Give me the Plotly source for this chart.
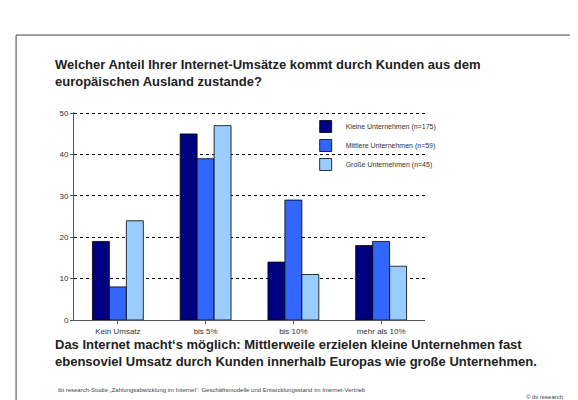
import plotly.graph_objects as go

categories = ["Kein Umsatz", "bis 5%", "bis 10%", "mehr als 10%"]
kleine = [19, 45, 14, 18]
mittlere = [8, 39, 29, 19]
grosse = [24, 47, 11, 13]
series_names = ["Kleine Unternehmen (n=175)", "Mittlere Unternehmen (n=59)", "Große Unternehmen (n=45)"]
colors = ["#000080", "#3366ff", "#99ccff"]

fig = go.Figure()
for name, vals, col in zip(series_names, [kleine, mittlere, grosse], colors):
    fig.add_trace(go.Bar(x=categories, y=vals, name=name, marker_color=col,
                         marker_line=dict(color="black", width=0.8)))

fig.update_layout(
    width=578, height=400, paper_bgcolor="white", plot_bgcolor="white",
    margin=dict(l=66, r=161, t=104, b=88),
    barmode="group", bargap=0.42, bargroupgap=0,
    font=dict(family="Liberation Sans, Arial", size=8, color="#333"),
    showlegend=True,
    legend=dict(x=0.66, y=1.0, xanchor="left", yanchor="top", bgcolor="rgba(0,0,0,0)",
                font=dict(size=7), itemwidth=30, tracegroupgap=0),
    xaxis=dict(showline=True, linecolor="#555", ticks="outside", ticklen=3,
               tickcolor="#555"),
    yaxis=dict(range=[0, 50.3], tickvals=[0, 10, 20, 30, 40, 50], ticksuffix="%",
               showline=True, linecolor="#555",
               ticks="outside", ticklen=3, tickcolor="#555",
               showgrid=True, gridcolor="black", griddash="dot", gridwidth=1),
    shapes=[dict(type="rect", xref="paper", yref="paper", x0=-0.165, x1=1.43,
                 y0=-0.41, y1=1.37, line=dict(color="#444", width=1))],
    annotations=[
        dict(text="<b>Welcher Anteil Ihrer Internet-Umsätze kommt durch Kunden aus dem<br>europäischen Ausland zustande?</b>",
             xref="paper", yref="paper", x=-0.06, y=1.1, xanchor="left", yanchor="bottom",
             align="left", showarrow=False, font=dict(size=13, color="#222")),
        dict(text="<b>Das Internet macht‘s möglich: Mittlerweile erzielen kleine Unternehmen fast<br>ebensoviel Umsatz durch Kunden innerhalb Europas wie große Unternehmen.</b>",
             xref="paper", yref="paper", x=-0.06, y=-0.07, xanchor="left", yanchor="top",
             align="left", showarrow=False, font=dict(size=13, color="#222")),
        dict(text="ibi research-Studie „Zahlungsabwicklung im Internet“: Geschäftsmodelle und Entwicklungsstand im Internet-Vertrieb",
             xref="paper", yref="paper", x=-0.05, y=-0.335, xanchor="left", yanchor="middle",
             showarrow=False, font=dict(size=6, color="#444")),
        dict(text="© ibi research", xref="paper", yref="paper", x=1.4, y=-0.37,
             xanchor="right", yanchor="middle", showarrow=False, font=dict(size=6, color="#444")),
    ],
)
fig.write_html("out.html")
